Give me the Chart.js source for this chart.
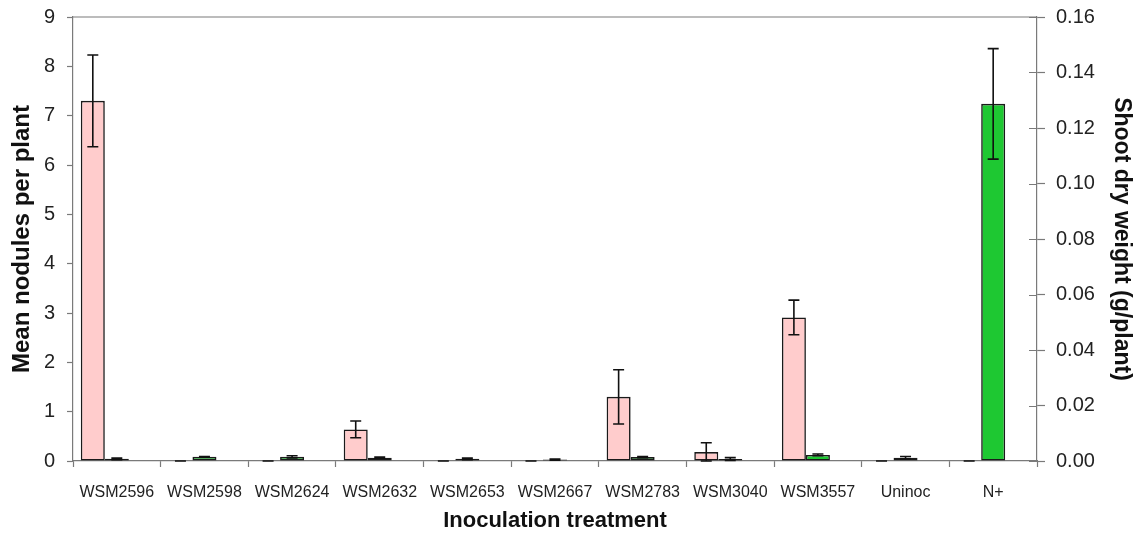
<!DOCTYPE html>
<html>
<head>
<meta charset="utf-8">
<script src="https://cdn.jsdelivr.net/npm/chart.js@4/dist/chart.umd.min.js"></script>
<style>
  html, body { margin: 0; padding: 0; background: #ffffff; }
  #wrap { width: 1138px; height: 540px; }
</style>
</head>
<body>
<div id="wrap"><canvas id="chart" width="1138" height="540"></canvas></div>
<script>
// Inoculation treatments on the category axis
const treatments = ['WSM2596', 'WSM2598', 'WSM2624', 'WSM2632', 'WSM2653', 'WSM2667',
                    'WSM2783', 'WSM3040', 'WSM3557', 'Uninoc', 'N+'];

// Mean nodules per plant (left axis) and standard error
const nodules    = [7.30, 0, 0, 0.64, 0, 0, 1.30, 0.18, 2.91, 0, 0];
const nodulesErr = [0.93, 0, 0, 0.17, 0, 0, 0.55, 0.19, 0.35, 0, 0];

// Shoot dry weight, g/plant (right axis) and standard error
const shootDW    = [0.0008, 0.0015, 0.0015, 0.0012, 0.0008, 0.0005, 0.0014, 0.0007, 0.0022, 0.0012, 0.1287];
const shootDWErr = [0.0003, 0.0001, 0.0004, 0.0002, 0.0003, 0.0002, 0.0002, 0.0005, 0.0003, 0.0004, 0.0199];

// Axis tick values
const noduleTicks = [0, 1, 2, 3, 4, 5, 6, 7, 8, 9];
const weightTicks = [0, 0.02, 0.04, 0.06, 0.08, 0.10, 0.12, 0.14, 0.16];

const FONT = '"Liberation Sans", Arial, Helvetica, sans-serif';
const AXIS = '#7a7a7a';

// Error bars with caps, drawn on top of the two bar series
const errorBars = {
  id: 'errorBars',
  afterDatasetsDraw(chart) {
    const ctx = chart.ctx;
    const sets = [
      { ds: 0, scale: chart.scales.y,  vals: nodules, errs: nodulesErr },
      { ds: 1, scale: chart.scales.y1, vals: shootDW, errs: shootDWErr }
    ];
    ctx.save();
    ctx.strokeStyle = '#111111';
    ctx.lineWidth = 1.6;
    const cap = 5.5;
    sets.forEach(s => {
      const meta = chart.getDatasetMeta(s.ds);
      meta.data.forEach((bar, i) => {
        const v = s.vals[i], e = s.errs[i];
        const x = bar.x;
        const yTop = s.scale.getPixelForValue(v + e);
        const yBot = s.scale.getPixelForValue(Math.max(0, v - e));
        ctx.beginPath();
        ctx.moveTo(x, yTop); ctx.lineTo(x, yBot);
        ctx.moveTo(x - cap, yTop); ctx.lineTo(x + cap, yTop);
        ctx.moveTo(x - cap, yBot); ctx.lineTo(x + cap, yBot);
        ctx.stroke();
      });
    });
    ctx.restore();
  }
};

// Top frame line and the inner half of the right-axis cross ticks
const frame = {
  id: 'frame',
  afterDraw(chart) {
    const { ctx, chartArea } = chart;
    const y1 = chart.scales.y1;
    ctx.save();
    ctx.strokeStyle = AXIS;
    ctx.lineWidth = 1.2;
    ctx.beginPath();
    ctx.moveTo(chartArea.left, chartArea.top);
    ctx.lineTo(chartArea.right, chartArea.top);
    y1.ticks.forEach(t => {
      const py = Math.round(y1.getPixelForValue(t.value)) + 0.5;
      ctx.moveTo(chartArea.right - 8, py);
      ctx.lineTo(chartArea.right, py);
    });
    ctx.stroke();
    ctx.restore();
  }
};

// fixed axis box sizes, without extra room for overhanging tick labels
function fixBox(w, h) {
  return scale => {
    if (w !== null) scale.width = w;
    if (h !== null) scale.height = h;
    scale.paddingTop = 0; scale.paddingBottom = 0;
    scale.paddingLeft = 0; scale.paddingRight = 0;
  };
}

new Chart(document.getElementById('chart'), {
  type: 'bar',
  data: {
    labels: treatments,
    datasets: [
      {
        label: 'Mean nodules per plant',
        data: nodules,
        yAxisID: 'y',
        backgroundColor: '#ffcccc',
        borderColor: '#1a1a1a',
        borderWidth: 1.6,
        borderSkipped: false
      },
      {
        label: 'Shoot dry weight (g/plant)',
        data: shootDW,
        yAxisID: 'y1',
        backgroundColor: '#1ec832',
        borderColor: '#1a1a1a',
        borderWidth: 1.6,
        borderSkipped: false
      },
      {
        // empty slot after each pair of bars
        label: '',
        data: treatments.map(() => null),
        yAxisID: 'y'
      }
    ]
  },
  options: {
    responsive: false,
    animation: false,
    devicePixelRatio: 1,
    categoryPercentage: 0.822,
    barPercentage: 1.0,
    layout: { padding: { top: 17, left: 0, right: 0, bottom: 0 } },
    plugins: {
      legend: { display: false },
      tooltip: { enabled: false }
    },
    scales: {
      x: {
        offset: true,
        grid: {
          display: true, offset: true, drawOnChartArea: false, drawTicks: true,
          tickLength: 6, tickColor: AXIS, tickWidth: 1.2
        },
        border: { display: true, color: AXIS, width: 1.2 },
        ticks: {
          color: '#222222', padding: 16,
          font: { family: FONT, size: 16 },
          maxRotation: 0, autoSkip: false
        },
        title: {
          display: true, text: 'Inoculation treatment', color: '#111111',
          font: { family: FONT, size: 22, weight: 'bold' }, padding: 6
        },
        afterFit: fixBox(null, 79)
      },
      y: {
        position: 'left',
        min: 0, max: 9,
        afterBuildTicks(scale) { scale.ticks = noduleTicks.map(v => ({ value: v })); },
        grid: {
          display: true, drawOnChartArea: false, drawTicks: true,
          tickLength: 6, tickColor: AXIS, tickWidth: 1.2
        },
        border: { display: true, color: AXIS, width: 1.2 },
        ticks: {
          color: '#222222', padding: 12,
          font: { family: FONT, size: 20 }
        },
        title: {
          display: true, text: 'Mean nodules per plant', color: '#111111',
          font: { family: FONT, size: 24, weight: 'bold' }, padding: 8
        },
        afterFit: fixBox(73, null)
      },
      y1: {
        position: 'right',
        min: 0, max: 0.16,
        afterBuildTicks(scale) { scale.ticks = weightTicks.map(v => ({ value: v })); },
        grid: {
          display: true, drawOnChartArea: false, drawTicks: true,
          tickLength: 8, tickColor: AXIS, tickWidth: 1.2
        },
        border: { display: true, color: AXIS, width: 1.2 },
        ticks: {
          color: '#222222', padding: 11,
          font: { family: FONT, size: 20 },
          callback: v => Number(v).toFixed(2)
        },
        title: {
          display: true, text: 'Shoot dry weight (g/plant)', color: '#111111',
          font: { family: FONT, size: 23, weight: 'bold' }, padding: 3
        },
        afterFit: fixBox(101, null)
      }
    }
  },
  plugins: [errorBars, frame]
});
</script>
</body>
</html>
